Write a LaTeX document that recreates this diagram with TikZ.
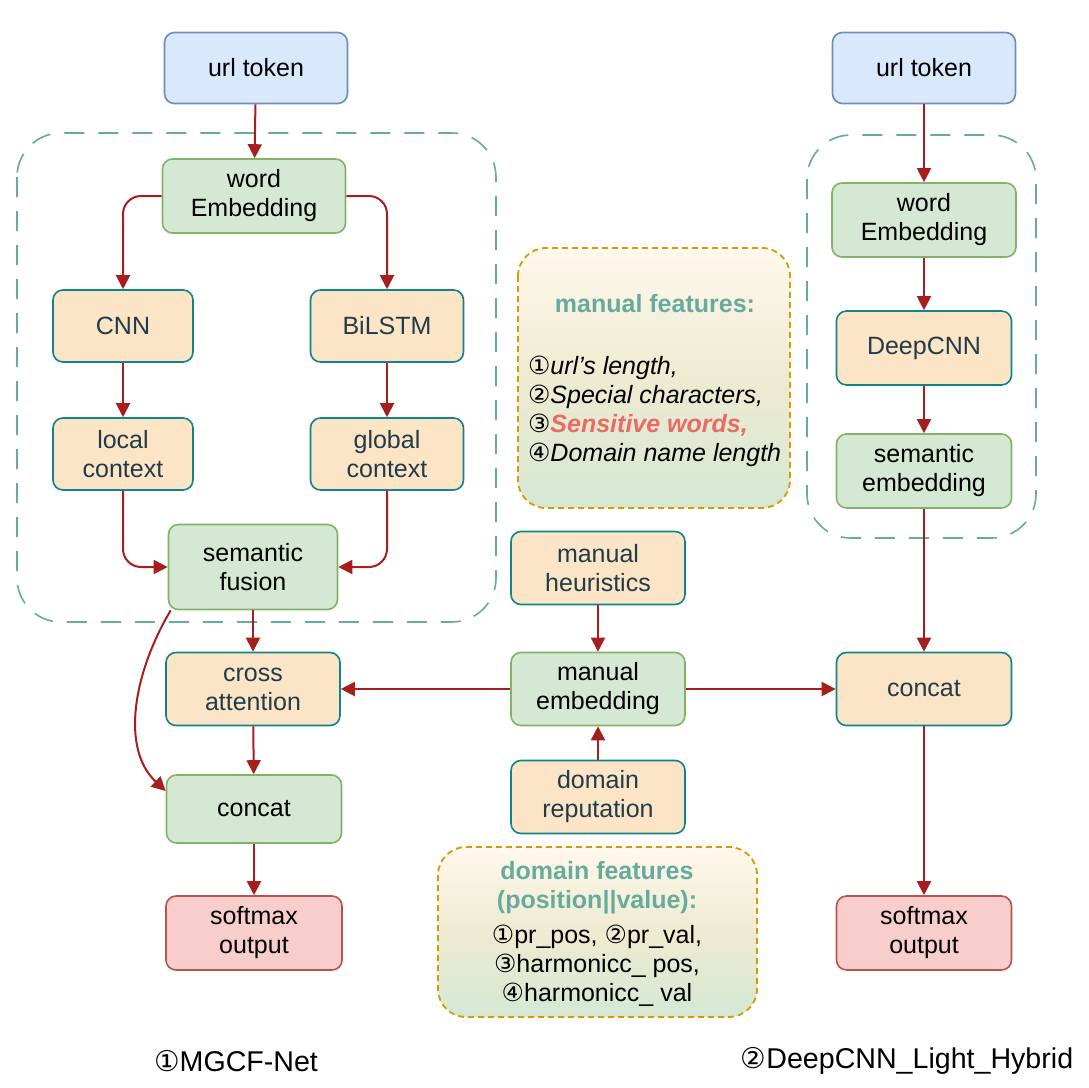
\documentclass[tikz,border=0pt]{standalone}
\usepackage{fontspec}
\setmainfont{Liberation Sans}
\newfontfamily\circfont{DejaVu Sans}
\usetikzlibrary{arrows.meta, positioning}

\definecolor{tokfill}{HTML}{DAE8FC}
\definecolor{tokline}{HTML}{6C8EBF}
\definecolor{embfill}{HTML}{D5E8D4}
\definecolor{embline}{HTML}{82B366}
\definecolor{opfill}{HTML}{FCE5C6}
\definecolor{opline}{HTML}{10838C}
\definecolor{optext}{HTML}{213B48}
\definecolor{outfill}{HTML}{F8CECC}
\definecolor{outline}{HTML}{B85450}
\definecolor{arrowred}{HTML}{A61E1E}
\definecolor{groupteal}{HTML}{67AB9F}
\definecolor{noteline}{HTML}{D79B00}
\definecolor{notetop}{HTML}{FFF8EC}
\definecolor{notemid}{HTML}{EEEBD2}
\definecolor{notebottom}{HTML}{D5E8D4}
\definecolor{hotword}{HTML}{EA6B66}

\newcommand{\cnum}[1]{{\circfont #1}}

\begin{document}
\begin{tikzpicture}[
    x=0.5pt, y=-0.5pt,
    box/.style={draw, rounded corners=5pt, align=center, line width=0.8pt,
        font=\fontsize{12.5pt}{14.5pt}\selectfont},
    tokbox/.style={box, fill=tokfill, draw=tokline, minimum width=91.5pt, minimum height=35.5pt},
    embbox/.style={box, fill=embfill, draw=embline, minimum width=87.5pt, minimum height=37pt},
    opbox/.style={box, fill=opfill, draw=opline, text=optext, minimum width=87pt, minimum height=36.5pt},
    outbox/.style={box, fill=outfill, draw=outline, minimum width=88pt, minimum height=37pt},
    group/.style={draw=groupteal, line width=0.8pt, dash pattern=on 10pt off 7pt, rounded corners=22pt},
    notebox/.style={draw=noteline, line width=0.9pt, dash pattern=on 3pt off 2pt, rounded corners=14pt,
        top color=notetop, bottom color=notebottom, middle color=notemid},
    notetitle/.style={align=center, text=groupteal, font=\fontsize{12.5pt}{14.5pt}\selectfont\bfseries},
    notetext/.style={font=\fontsize{12.5pt}{14.5pt}\selectfont},
    caption/.style={font=\fontsize{14.3pt}{16pt}\selectfont},
    arrow/.style={-{Triangle[length=7pt, width=7pt]}, line width=1pt, draw=arrowred}
]
\useasboundingbox (0,0) rectangle (1089,1088);

% dashed groups and feature notes
\draw[group] (17,133) rectangle (496,622);
\draw[group] (807,135) rectangle (1036,538);
\draw[notebox] (518,248) rectangle (790,508);
\draw[notebox] (438,847) rectangle (757,1017);

% MGCF-Net
\node[tokbox] (urlA) at (256,68) {url token};
\node[embbox, minimum width=91.5pt] (wembA) at (254,196) {word\\Embedding};
\node[opbox, minimum width=70pt, minimum height=36pt] (cnn) at (123,326) {CNN};
\node[opbox, minimum width=76.5pt, minimum height=36pt] (bilstm) at (387,326) {BiLSTM};
\node[opbox, minimum width=70pt, minimum height=36pt] (localctx) at (123,454) {local\\context};
\node[opbox, minimum width=76.5pt, minimum height=36pt] (globalctx) at (387,454) {global\\context};
\node[embbox, minimum width=84.5pt, minimum height=42.5pt] (fusion) at (253,567) {semantic\\fusion};
\node[opbox] (crossatt) at (253,689) {cross\\attention};
\node[embbox, minimum height=34pt] (concatA) at (254,809) {concat};
\node[outbox] (softmaxA) at (254,933) {softmax\\output};

% manual branch
\node[opbox] (heur) at (598,568) {manual\\heuristics};
\node[embbox, minimum width=87pt, minimum height=36.5pt] (manemb) at (598,689) {manual\\embedding};
\node[opbox] (domrep) at (598,797) {domain\\reputation};
\node[notetitle] (manfeat) at (655,304) {manual features:};
\node[notetext, align=left, anchor=west] (manlist) at (521,411) {\itshape
    \cnum{①}url’s length,\\
    \itshape\cnum{②}Special characters,\\
    \itshape\cnum{③}\textcolor{hotword}{\bfseries Sensitive words,}\\
    \itshape\cnum{④}Domain name length};
\node[notetitle] (domfeat) at (597,888) {domain features\\(position||value):};
\node[notetext, align=center] (domlist) at (597,966) {\cnum{①}pr\_pos, \cnum{②}pr\_val,\\
    \cnum{③}harmonicc\_ pos,\\ \cnum{④}harmonicc\_ val};

% DeepCNN_Light_Hybrid
\node[tokbox] (urlB) at (924,68) {url token};
\node[embbox, minimum width=92pt] (wembB) at (924,220) {word\\Embedding};
\node[opbox, minimum width=87.5pt, minimum height=37pt] (deepcnn) at (924,348) {DeepCNN};
\node[embbox] (semembB) at (924,471) {semantic\\embedding};
\node[opbox, minimum width=87.5pt] (concatB) at (924,689) {concat};
\node[outbox, minimum width=87.5pt] (softmaxB) at (924,933) {softmax\\output};

\node[caption] (capA) at (236,1061) {\cnum{①}MGCF-Net};
\node[caption] (capB) at (907,1061) {\cnum{②}DeepCNN\_Light\_Hybrid};

% connectors
\draw[arrow] (urlA) -- (wembA);
\draw[arrow, rounded corners=9pt] (wembA.west) -| (cnn.north);
\draw[arrow, rounded corners=9pt] (wembA.east) -| (bilstm.north);
\draw[arrow] (cnn) -- (localctx);
\draw[arrow] (bilstm) -- (globalctx);
\draw[arrow, rounded corners=9pt] (localctx.south) |- (fusion.west);
\draw[arrow, rounded corners=9pt] (globalctx.south) |- (fusion.east);
\draw[arrow] (fusion) -- (crossatt);
\draw[arrow] (crossatt) -- (concatA);
\draw[arrow] ([xshift=1.5pt]fusion.south west) .. controls (134,672) and (120,748) .. ([yshift=9pt]concatA.west);
\draw[arrow] (concatA) -- (softmaxA);
\draw[arrow] (heur) -- (manemb);
\draw[arrow] (domrep) -- (manemb);
\draw[arrow] (manemb) -- (crossatt);
\draw[arrow] (manemb) -- (concatB);
\draw[arrow] (urlB) -- (wembB);
\draw[arrow] (wembB) -- (deepcnn);
\draw[arrow] (deepcnn) -- (semembB);
\draw[arrow] (semembB) -- (concatB);
\draw[arrow] (concatB) -- (softmaxB);

\end{tikzpicture}
\end{document}
